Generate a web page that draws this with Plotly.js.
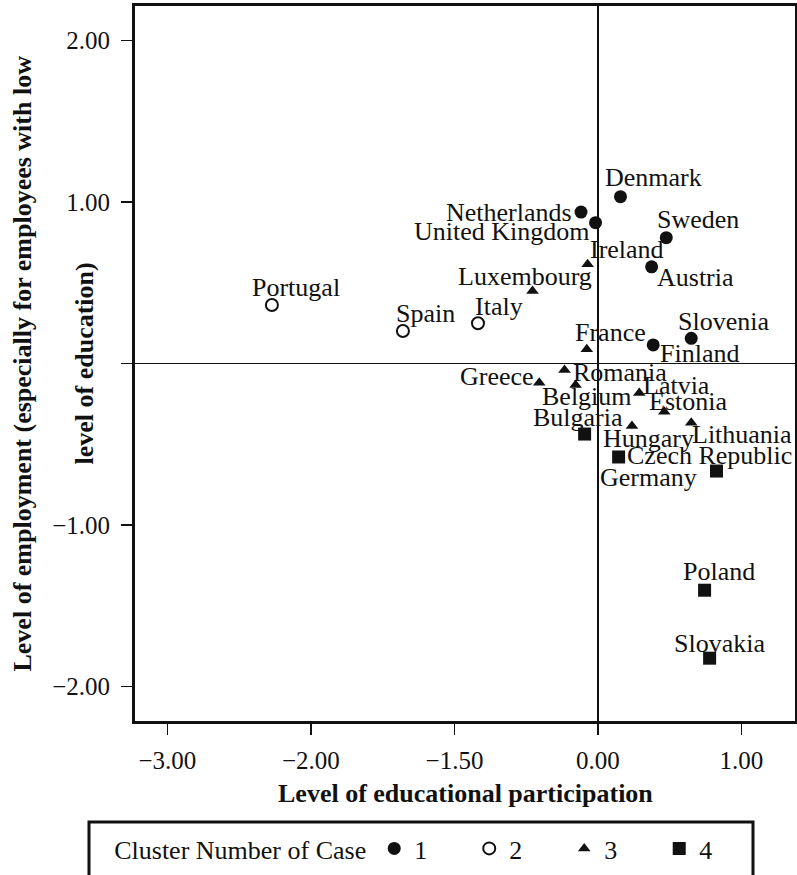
<!DOCTYPE html>
<html>
<head>
<meta charset="utf-8">
<script src="https://cdn.plot.ly/plotly-3.0.1.min.js"></script>
<style>
  html, body { margin: 0; padding: 0; background: #fff; }
  #chart { width: 797px; height: 875px; }
</style>
</head>
<body>
<div id="chart"></div>
<script>
// Country scores on the two factors and their cluster membership
const countries = ['Denmark', 'Netherlands', 'United Kingdom', 'Sweden', 'Austria', 'Slovenia', 'Finland',
  'Portugal', 'Spain', 'Italy',
  'Ireland', 'Luxembourg', 'France', 'Romania', 'Greece', 'Belgium', 'Latvia', 'Estonia', 'Hungary', 'Lithuania',
  'Bulgaria', 'Czech Republic', 'Germany', 'Poland', 'Slovakia'];
const clusterOf = [1, 1, 1, 1, 1, 1, 1,
  2, 2, 2,
  3, 3, 3, 3, 3, 3, 3, 3, 3, 3,
  4, 4, 4, 4, 4];
const participation = [0.157, -0.118, -0.017, 0.476, 0.374, 0.650, 0.385,
  -2.272, -1.359, -0.836,
  -0.072, -0.456, -0.078, -0.233, -0.409, -0.156, 0.288, 0.462, 0.237, 0.650,
  -0.093, 0.144, 0.826, 0.743, 0.778];
const employment = [1.033, 0.938, 0.872, 0.779, 0.599, 0.156, 0.115,
  0.362, 0.201, 0.249,
  0.614, 0.449, 0.089, -0.040, -0.119, -0.133, -0.183, -0.299, -0.387, -0.367,
  -0.437, -0.579, -0.666, -1.404, -1.825];

const clusterIds = [1, 2, 3, 4];
const xTickValues = [-3, -2, -1, 0, 1];
const xTickLabels = ['\u22123.00', '\u22122.00', '\u22121.50', '0.00', '1.00'];
const yTickValues = [-2, -1, 0, 1, 2];
const yTickLabels = ['\u22122.00', '\u22121.00', '', '1.00', '2.00'];

const legendTitle = 'Cluster Number of Case';
const xTitle = 'Level of educational participation';
const yTitleLines = ['Level of employment (especially for employees with low', 'level of education)'];

// Marker look per cluster
const clusterStyle = {
  1: { symbol: 'circle', size: 13, color: '#111', line: { width: 0 } },
  2: { symbol: 'circle-open', size: 12, color: '#111', line: { width: 2 } },
  3: { symbol: 'triangle-up', size: 11, color: '#111', line: { width: 0 } },
  4: { symbol: 'square', size: 13, color: '#111', line: { width: 0 } }
};

// Pixel offsets [right, down] of each country name from its marker
const labelOffset = {
  'Denmark': [33, -19], 'Netherlands': [-72, 0], 'United Kingdom': [-94, 9], 'Sweden': [32, -18],
  'Austria': [44, 11], 'Slovenia': [32, -17], 'Finland': [46, 9], 'Portugal': [24, -18],
  'Spain': [23, -18], 'Italy': [21, -17], 'Ireland': [39, -15], 'Luxembourg': [-8, -15],
  'France': [24, -17], 'Romania': [55, 3], 'Greece': [-42, -6], 'Belgium': [11, 12],
  'Latvia': [37, -8], 'Estonia': [24, -10], 'Hungary': [17, 13], 'Lithuania': [51, 12],
  'Bulgaria': [-7, -17], 'Czech Republic': [91, -1], 'Germany': [-68, 6], 'Poland': [14, -19],
  'Slovakia': [10, -15]
};

const serif = 'Liberation Serif, Times New Roman, serif';
const ink = '#111';

const traces = clusterIds.map(function (c) {
  const idx = clusterOf.map(function (v, i) { return v === c ? i : -1; }).filter(function (i) { return i >= 0; });
  const st = clusterStyle[c];
  return {
    type: 'scatter',
    mode: 'markers',
    name: String(c),
    x: idx.map(function (i) { return participation[i]; }),
    y: idx.map(function (i) { return employment[i]; }),
    text: idx.map(function (i) { return countries[i]; }),
    hoverinfo: 'text',
    marker: { symbol: st.symbol, size: st.size, color: st.color, line: { color: ink, width: st.line.width } }
  };
});

const annotations = countries.map(function (name, i) {
  const off = labelOffset[name];
  return {
    xref: 'x', yref: 'y', x: participation[i], y: employment[i],
    text: name, showarrow: false,
    xanchor: 'center', yanchor: 'middle',
    xshift: off[0], yshift: -off[1],
    font: { family: serif, size: 26, color: ink }
  };
});

annotations.push({
  xref: 'paper', yref: 'paper', x: 0.5, y: -0.102,
  text: '<b>' + xTitle + '</b>', showarrow: false,
  xanchor: 'center', yanchor: 'middle',
  font: { family: serif, size: 26, color: ink }
});
annotations.push({
  xref: 'paper', yref: 'paper', x: -0.1712, y: 0.5,
  text: '<b>' + yTitleLines[0] + '</b>', showarrow: false, textangle: -90,
  xanchor: 'center', yanchor: 'middle',
  font: { family: serif, size: 26, color: ink }
});
annotations.push({
  xref: 'paper', yref: 'paper', x: -0.0758, y: 0.5,
  text: '<b>' + yTitleLines[1] + '</b>', showarrow: false, textangle: -90,
  xanchor: 'center', yanchor: 'middle',
  font: { family: serif, size: 26, color: ink }
});

const layout = {
  width: 797,
  height: 875,
  margin: { l: 135, r: 2, t: 6, b: 154, autoexpand: false },
  paper_bgcolor: '#fff',
  plot_bgcolor: '#fff',
  showlegend: true,
  legend: {
    orientation: 'h',
    xref: 'container', yref: 'container',
    x: 0.1408, y: 1 - 825 / 875,
    xanchor: 'left', yanchor: 'top',
    title: { text: legendTitle, side: 'left', font: { family: serif, size: 26, color: ink } },
    font: { family: serif, size: 26, color: ink },
    borderwidth: 0,
    bgcolor: 'rgba(0,0,0,0)',
    entrywidth: 50,
    itemwidth: 30
  },
  xaxis: {
    range: [-3.226, 1.373],
    tickmode: 'array', tickvals: xTickValues, ticktext: xTickLabels,
    ticks: 'outside', ticklen: 11, tickwidth: 1.5, tickcolor: ink,
    ticklabelstandoff: 4,
    showgrid: false,
    zeroline: true, zerolinecolor: ink, zerolinewidth: 1.5,
    showline: true, linecolor: ink, linewidth: 3, mirror: true,
    tickfont: { family: serif, size: 25, color: ink },
    fixedrange: true
  },
  yaxis: {
    range: [-2.214, 2.214],
    tickmode: 'array', tickvals: yTickValues, ticktext: yTickLabels,
    ticks: 'outside', ticklen: 11, tickwidth: 1.5, tickcolor: ink,
    ticklabelstandoff: 6,
    showgrid: false,
    zeroline: true, zerolinecolor: ink, zerolinewidth: 1.5,
    showline: true, linecolor: ink, linewidth: 3, mirror: true,
    tickfont: { family: serif, size: 25, color: ink },
    fixedrange: true
  },
  shapes: [{
    type: 'rect', xref: 'paper', yref: 'paper',
    x0: (89 - 135) / 660, x1: (753 - 135) / 660,
    y0: (721 - 822) / 715, y1: (721 - 920) / 715,
    line: { color: ink, width: 3 }, fillcolor: 'rgba(0,0,0,0)', layer: 'above'
  }],
  annotations: annotations
};

Plotly.newPlot('chart', traces, layout, { staticPlot: true, displayModeBar: false });
</script>
</body>
</html>
